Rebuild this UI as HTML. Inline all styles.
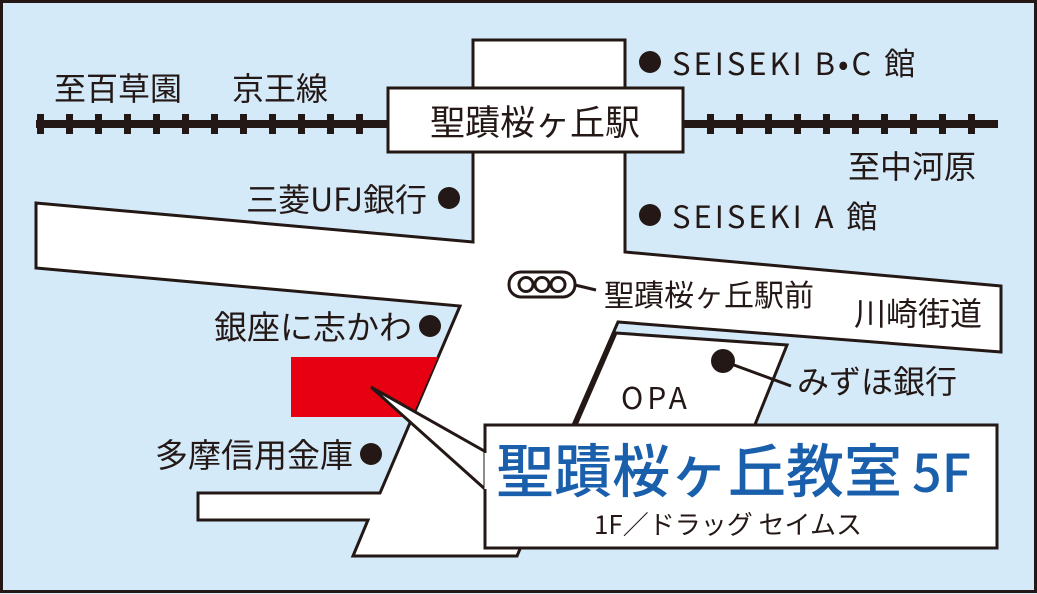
<!DOCTYPE html>
<html><head><meta charset="utf-8"><style>
html,body{margin:0;padding:0;background:#d4eaf9}
svg{display:block}
text{font-family:"Noto Sans CJK JP","Liberation Sans",sans-serif;fill:#231815}
</style></head><body>
<svg width="1037" height="594" viewBox="0 0 1037 594" xmlns="http://www.w3.org/2000/svg">
<rect x="1.5" y="1.5" width="1034" height="590" fill="#d4eaf9" stroke="#231815" stroke-width="3"/>
<path d="M473,40 L625,40 L625,252 L1001,286 L1001,352 L618,322 L570,432 L517,556 L353,556 L368,520 L198,520 L198,493 L380,493 L460,306 L36,268 L36,203 L473,242 Z" fill="#fff" stroke="#231815" stroke-width="3" stroke-linejoin="miter"/>
<polygon points="291,357 438,357 412,417 291,417" fill="#e60012"/>
<polygon points="616,333 787,345 752,432 573,432" fill="#fff" stroke="#231815" stroke-width="3"/>
<text x="621" y="409" font-size="30" letter-spacing="4">OPA</text>
<rect x="36" y="120" width="962" height="8" fill="#231815"/>
<g fill="#231815">
<rect x="37" y="114" width="7" height="20"/><rect x="66" y="114" width="7" height="20"/><rect x="95" y="114" width="7" height="20"/><rect x="124" y="114" width="7" height="20"/><rect x="153" y="114" width="7" height="20"/><rect x="182" y="114" width="7" height="20"/><rect x="211" y="114" width="7" height="20"/><rect x="240" y="114" width="7" height="20"/><rect x="269" y="114" width="7" height="20"/><rect x="298" y="114" width="7" height="20"/><rect x="327" y="114" width="7" height="20"/><rect x="356" y="114" width="7" height="20"/>
<rect x="707" y="114" width="7" height="20"/><rect x="736" y="114" width="7" height="20"/><rect x="765" y="114" width="7" height="20"/><rect x="794" y="114" width="7" height="20"/><rect x="823" y="114" width="7" height="20"/><rect x="852" y="114" width="7" height="20"/><rect x="881" y="114" width="7" height="20"/><rect x="910" y="114" width="7" height="20"/><rect x="939" y="114" width="7" height="20"/><rect x="968" y="114" width="7" height="20"/>
</g>
<rect x="388" y="88" width="295" height="64" fill="#fff" stroke="#231815" stroke-width="3"/>
<text x="535" y="135" font-size="35" text-anchor="middle">聖蹟桜ヶ丘駅</text>
<text x="54" y="100" font-size="32">至百草園</text>
<text x="232" y="100" font-size="32">京王線</text>
<text x="848" y="178" font-size="32">至中河原</text>
<g fill="#231815">
<circle cx="650" cy="62" r="11"/><circle cx="650" cy="215" r="11"/>
<circle cx="449" cy="198" r="11"/><circle cx="430" cy="326" r="11"/><circle cx="371" cy="454" r="11"/>
<circle cx="723" cy="361" r="12"/>
</g>
<text x="672" y="75" font-size="31" letter-spacing="3">SEISEKI B•C 館</text>
<text x="672" y="228" font-size="31" letter-spacing="3">SEISEKI A 館</text>
<text x="427" y="211" font-size="32" text-anchor="end">三菱UFJ銀行</text>
<text x="412" y="339" font-size="33" text-anchor="end">銀座に志かわ</text>
<text x="353" y="467" font-size="33" text-anchor="end">多摩信用金庫</text>
<rect x="509" y="272" width="66" height="25" rx="12" fill="#fff" stroke="#231815" stroke-width="3"/>
<circle cx="526" cy="284.5" r="7" fill="none" stroke="#231815" stroke-width="3"/>
<circle cx="542" cy="284.5" r="7" fill="none" stroke="#231815" stroke-width="3"/>
<circle cx="558" cy="284.5" r="7" fill="none" stroke="#231815" stroke-width="3"/>
<line x1="575" y1="285" x2="596" y2="290" stroke="#231815" stroke-width="3"/>
<text x="604" y="306" font-size="30">聖蹟桜ヶ丘駅前</text>
<text x="854" y="325" font-size="32">川崎街道</text>
<line x1="723" y1="361" x2="791" y2="386" stroke="#231815" stroke-width="3"/>
<text x="797" y="393" font-size="32">みずほ銀行</text>
<polygon points="371,387 486,452 486,490" fill="#fff" stroke="#231815" stroke-width="3" stroke-linejoin="miter"/>
<rect x="485" y="425" width="512" height="123" fill="#fff" stroke="#231815" stroke-width="3"/>
<line x1="486" y1="453" x2="486" y2="489" stroke="#fff" stroke-width="3"/>
<text x="496" y="492" font-size="58" font-weight="500" style="fill:#1a5fac">聖蹟桜ヶ丘教室<tspan font-size="52" dx="10">5F</tspan></text>
<text x="728" y="534" font-size="26" text-anchor="middle">1F／ドラッグ セイムス</text>
</svg>
</body></html>
